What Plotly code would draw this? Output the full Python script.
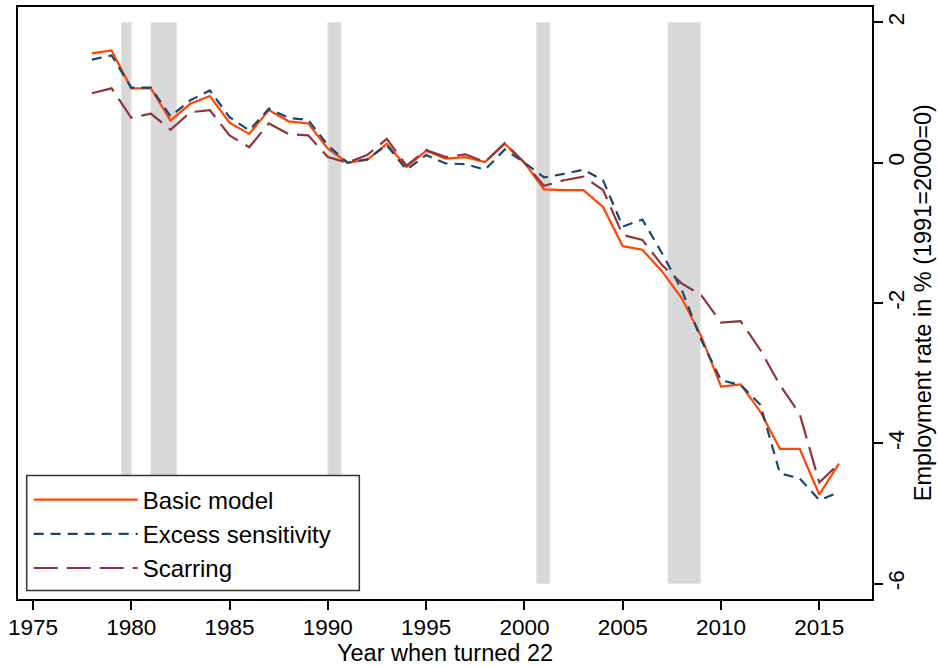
import plotly.graph_objects as go

years = list(range(1978, 2017))

basic_model = [1.56, 1.60, 1.06, 1.06, 0.60, 0.84, 0.95, 0.57, 0.41, 0.75,
               0.59, 0.56, 0.20, 0.00, 0.04, 0.27, -0.06, 0.17, 0.06, 0.08,
               0.01, 0.27, 0.00, -0.38, -0.39, -0.39, -0.63, -1.19, -1.24, -1.55,
               -1.93, -2.48, -3.19, -3.16, -3.55, -4.08, -4.08, -4.73, -4.29]

excess_sensitivity = [1.47, 1.53, 1.07, 1.07, 0.66, 0.89, 1.03, 0.65, 0.46, 0.77,
                      0.64, 0.61, 0.25, 0.00, 0.05, 0.25, -0.10, 0.11, -0.01, -0.02,
                      -0.10, 0.19, 0.00, -0.21, -0.16, -0.10, -0.25, -0.91, -0.81, -1.29,
                      -1.81, -2.53, -3.10, -3.17, -3.45, -4.43, -4.50, -4.81, -4.70]

scarring = [0.99, 1.06, 0.64, 0.70, 0.47, 0.72, 0.75, 0.39, 0.22, 0.56,
            0.41, 0.39, 0.08, 0.00, 0.11, 0.34, -0.04, 0.18, 0.08, 0.12,
            0.01, 0.28, 0.00, -0.33, -0.25, -0.20, -0.39, -1.03, -1.10, -1.46,
            -1.72, -1.89, -2.28, -2.26, -2.67, -3.17, -3.58, -4.56, -4.29]

recession_start = [1979.5, 1981.0, 1990.0, 2000.62, 2007.3]
recession_end = [1980.0, 1982.3, 1990.67, 2001.3, 2008.95]
recession_low, recession_high = -6, 2

x_ticks = [1975, 1980, 1985, 1990, 1995, 2000, 2005, 2010, 2015]
y_ticks = [2, 0, -2, -4, -6]
y_tick_text = ["2", "0", "-2", "-4", "-6"]

x_title = "Year when turned 22"
y_title = "Employment rate in % (1991=2000=0)"

FONT = "Liberation Sans, Arial, Helvetica, sans-serif"

fig = go.Figure()

for s, e in zip(recession_start, recession_end):
    fig.add_shape(type="rect", xref="x", yref="y", x0=s, x1=e,
                  y0=recession_low, y1=recession_high,
                  fillcolor="#d8d8d8", line=dict(color="#e6e6e6", width=1),
                  layer="below")

# legend frame (white box that hides what lies beneath the legend)
fig.add_shape(type="rect", xref="paper", yref="paper",
              x0=0.0102, x1=0.3997, y0=0.0145, y1=0.2086,
              fillcolor="white", line=dict(color="#333333", width=1.5),
              layer="above")

fig.add_trace(go.Scatter(x=years, y=basic_model, mode="lines", name="Basic model",
                         legendgroup="a",
                         line=dict(color="#FF4500", width=2.2)))
fig.add_trace(go.Scatter(x=years, y=excess_sensitivity, mode="lines",
                         name="Excess sensitivity", legendgroup="b",
                         line=dict(color="#1A476F", width=2.2, dash="10px,7px")))
fig.add_trace(go.Scatter(x=years, y=scarring, mode="lines", name="Scarring",
                         legendgroup="c",
                         line=dict(color="#90353B", width=2.2, dash="24px,9px")))

fig.add_annotation(text=x_title, xref="paper", yref="paper", x=0.5, y=-0.092,
                   xanchor="center", yanchor="middle", showarrow=False,
                   font=dict(size=23.5, family=FONT, color="black"))
fig.add_annotation(text=y_title, xref="paper", yref="paper", x=1.060, y=0.5,
                   xanchor="center", yanchor="middle", showarrow=False,
                   textangle=-90,
                   font=dict(size=23.5, family=FONT, color="black"))

fig.update_layout(
    width=940, height=667,
    margin=dict(l=18, r=68, t=7, b=68, autoexpand=False),
    paper_bgcolor="white", plot_bgcolor="white",
    font=dict(family=FONT, color="black", size=23),
    showlegend=True,
    legend=dict(x=0.0125, y=0.2052, xanchor="left", yanchor="top",
                bgcolor="rgba(0,0,0,0)", borderwidth=0,
                font=dict(size=24, family=FONT, color="black"),
                itemwidth=104, tracegroupgap=4, traceorder="normal"),
    xaxis=dict(range=[1974.24, 2017.68], tickvals=x_ticks, automargin=False,
               ticks="outside", ticklen=9, tickwidth=1.5, tickcolor="black",
               showline=True, linecolor="black", linewidth=1.5, mirror=True,
               showgrid=False, zeroline=False, ticklabelstandoff=-2,
               tickfont=dict(size=22.5)),
    yaxis=dict(range=[-6.22, 2.22], tickvals=y_ticks, ticktext=y_tick_text,
               side="right", automargin=False,
               ticks="outside", ticklen=9, tickwidth=1.5, tickcolor="black",
               tickangle=-90, ticklabelstandoff=-6,
               showline=True, linecolor="black", linewidth=1.5, mirror=True,
               showgrid=False, zeroline=False,
               tickfont=dict(size=22.5)),
)

fig.write_html("out.html", config={"displayModeBar": False},
               post_script="document.body.style.margin='0';"
                           "document.body.style.overflow='hidden';")
